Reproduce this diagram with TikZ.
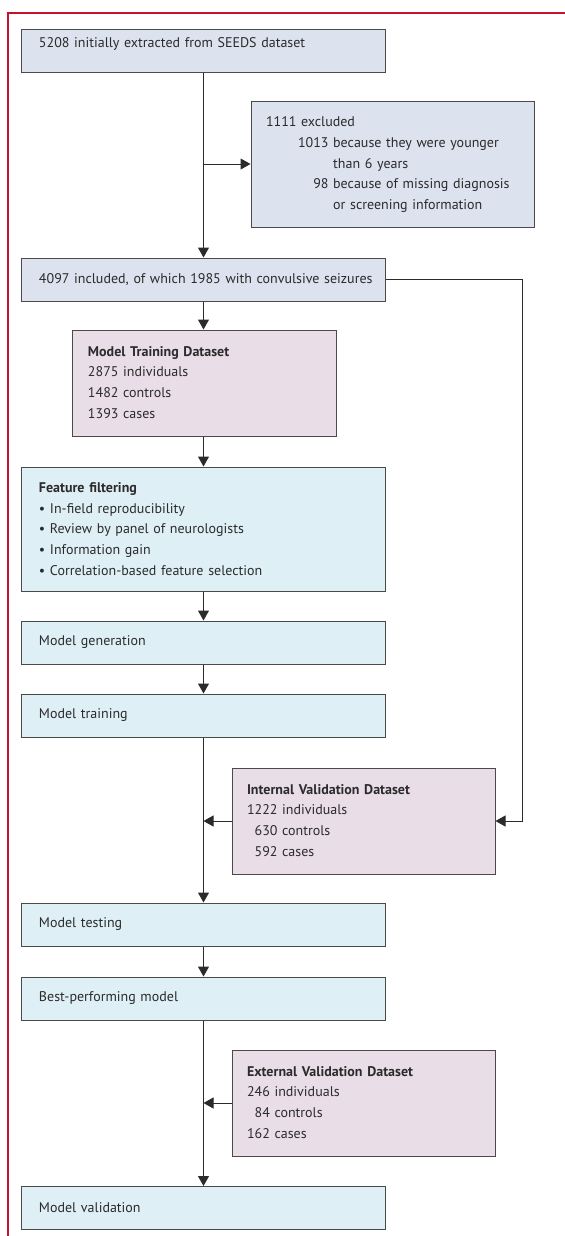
\documentclass[tikz,border=0pt]{standalone}
\usepackage{fontspec}
\setmainfont{PT Sans}
\usetikzlibrary{arrows.meta}
\definecolor{frame}{HTML}{C4122F}
\definecolor{edge}{HTML}{4A4A4A}
\definecolor{txt}{HTML}{2B2B2B}
\definecolor{grayblue}{HTML}{DCE2EE}
\definecolor{pinkish}{HTML}{E9DDE7}
\definecolor{lightblue}{HTML}{DFEFF6}
\begin{document}
\begin{tikzpicture}[x=1bp,y=-1bp,
  every node/.style={font=\fontsize{14bp}{20.7bp}\selectfont, text=txt},
  base/.style={draw=edge, line width=1bp, inner ysep=0pt, align=left},
  widebox/.style={base, inner xsep=17bp, text width=329bp, minimum height=43bp},
  stepblue/.style={widebox, fill=lightblue},
  datapink/.style={base, fill=pinkish, inner xsep=15bp, text width=233bp, minimum height=106bp},
  arr/.style={draw=txt, line width=1bp, -{Triangle[length=10bp,width=11bp]}},
  ln/.style={draw=txt, line width=1bp}]
\useasboundingbox (0,0) rectangle (565,1236);
\draw[frame, line width=1.2bp] (565,13) -- (8,13) -- (8,1236);

\node[widebox, fill=grayblue, text depth=16bp] (b1) at (203.5,50.5) {5208 initially extracted from SEEDS dataset};
\node[base, fill=grayblue, inner xsep=15bp, text width=253bp, minimum height=126bp] (excl) at (392.5,164)
 {\begin{tabular}{@{\hspace{32bp}}r@{\ }l@{}}
  \multicolumn{2}{@{}l@{}}{1111 excluded}\\
  1013 & because they were younger\\
       & than 6 years\\
  98 & because of missing diagnosis\\
     & or screening information
 \end{tabular}};
\node[widebox, fill=grayblue] (b2) at (203.5,279.5) {\mbox{4097 included, of which 1985 with convulsive seizures}};
\node[datapink] (train) at (204.5,383)
 {\begin{tabular}{@{}r@{\ }l@{}}
  \multicolumn{2}{@{}l@{}}{\bfseries Model Training Dataset}\\
  2875 & individuals\\ 1482 & controls\\ 1393 & cases
 \end{tabular}};
\node[stepblue, minimum height=124bp] (feat) at (203.5,529)
 {\textbf{Feature filtering}\\
  \textbullet\ In-field reproducibility\\
  \textbullet\ Review by panel of neurologists\\
  \textbullet\ Information gain\\
  \textbullet\ Correlation-based feature selection};
\node[stepblue] (gen) at (203.5,642.5) {Model generation};
\node[stepblue] (mtrain) at (203.5,715.5) {Model training};
\node[datapink] (intval) at (363.5,821)
 {\begin{tabular}{@{}r@{\ }l@{}}
  \multicolumn{2}{@{}l@{}}{\bfseries Internal Validation Dataset}\\
  1222 & individuals\\ 630 & controls\\ 592 & cases
 \end{tabular}};
\node[stepblue] (test) at (203.5,924.5) {Model testing};
\node[stepblue] (best) at (203.5,998.5) {Best-performing model};
\node[datapink] (extval) at (363.5,1103)
 {\begin{tabular}{@{}r@{\ }l@{}}
  \multicolumn{2}{@{}l@{}}{\bfseries External Validation Dataset}\\
  246 & individuals\\ 84 & controls\\ 162 & cases
 \end{tabular}};
\node[stepblue] (valid) at (203.5,1208) {Model validation};

\draw[arr] (b1.south) -- (b2.north);
\draw[arr] (b1.south |- excl.west) -- (excl.west);
\draw[arr] (b2.south) -- (train.north -| b2.south);
\draw[arr] (train.south -| b2.south) -- (feat.north);
\draw[arr] (feat.south) -- (gen.north);
\draw[arr] (gen.south) -- (mtrain.north);
\draw[arr] (mtrain.south) -- (test.north);
\draw[arr] (intval.west) -- (mtrain.south |- intval.west);
\draw[arr] (b2.east) -- ++(137,0) |- (intval.east);
\draw[arr] (test.south) -- (best.north);
\draw[arr] (best.south) -- (valid.north);
\draw[arr] (extval.west) -- (best.south |- extval.west);
\end{tikzpicture}
\end{document}
